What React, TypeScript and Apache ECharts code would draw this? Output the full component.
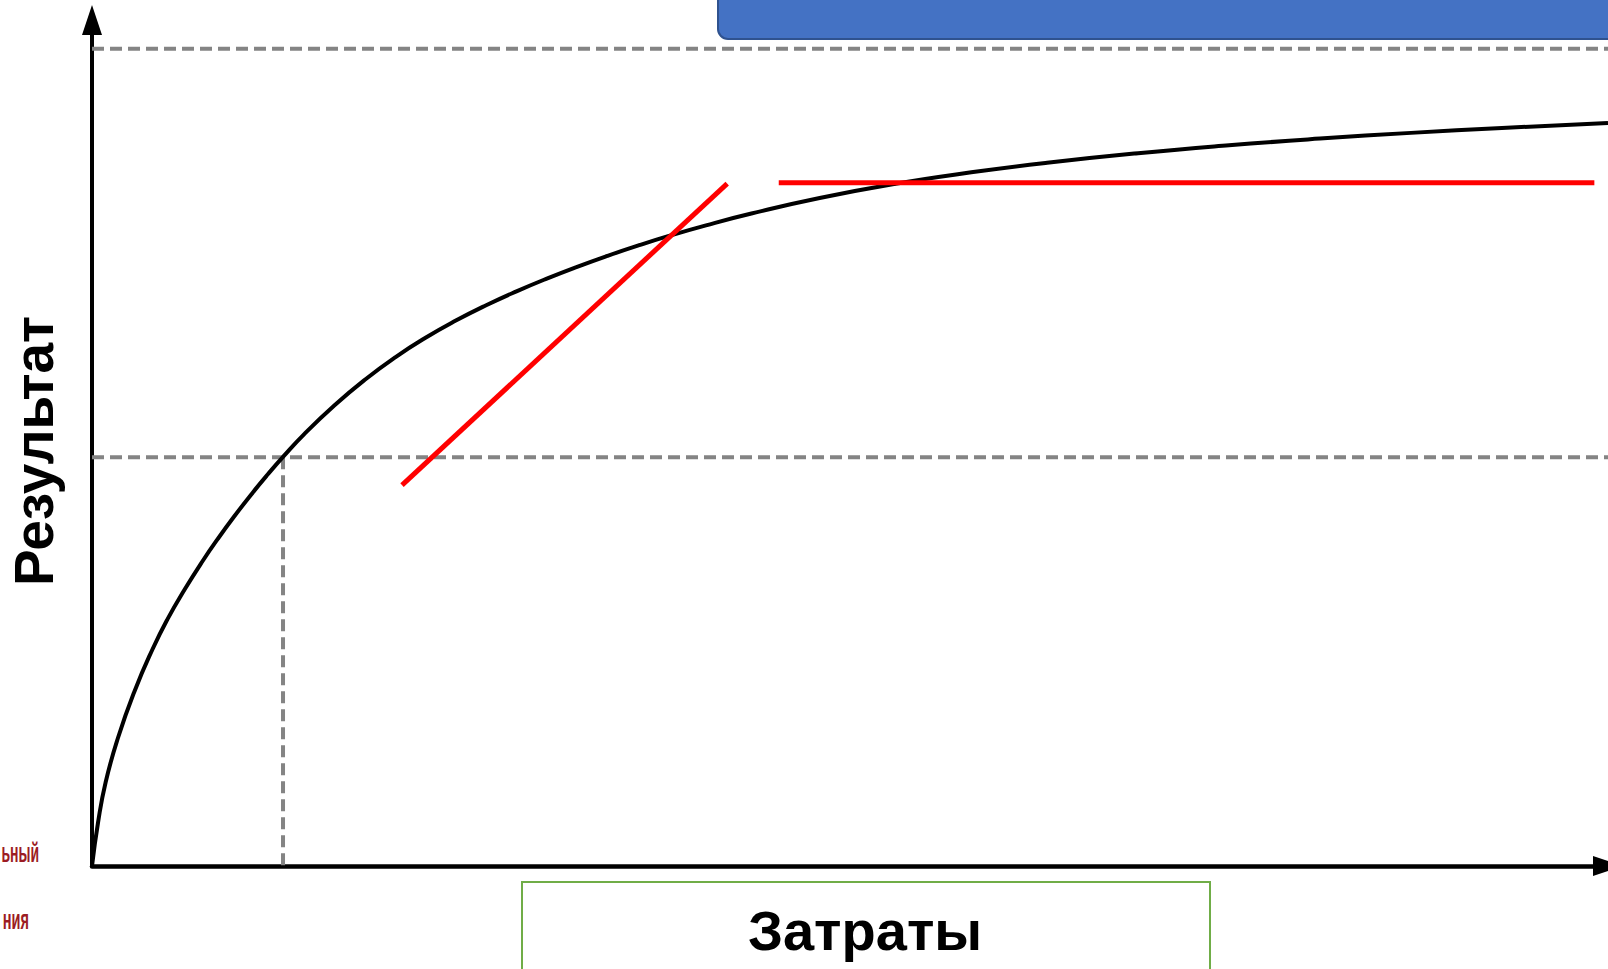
import React, { useEffect, useRef } from "react";
import * as echarts from "echarts";

// Curve of result vs cost (abstract units)
const curveX = [0, 0.4, 0.9, 1.7, 2.8, 4, 5, 6.1, 7.3, 8.3, 9.4, 10.6, 11.6, 12.6, 14, 16, 18, 20, 22, 24, 26, 28, 30, 32, 34, 36, 38, 40.5, 43.5, 48, 53, 58, 63, 69, 75, 81, 87, 93, 100];
const curveY = [0, 5.34, 10.25, 15.6, 21.36, 26.55, 30.27, 33.8, 37.32, 40.03, 42.82, 45.68, 47.93, 50.06, 52.85, 56.38, 59.5, 62.24, 64.63, 66.73, 68.61, 70.31, 71.87, 73.31, 74.65, 75.9, 77.06, 78.39, 79.83, 81.73, 83.47, 84.87, 86.04, 87.21, 88.18, 89.0, 89.7, 90.3, 90.91];

// Dashed reference levels
const topLevel = 100;
const midLevel = 50;
const midCost = 12.6;

// Red lines
const tangentX = [20.45, 41.9];
const tangentY = [46.6, 83.5];
const plateauX = [45.3, 99.1];
const plateauY = [83.6, 83.6];

const xAxisTitle = "Затраты";
const yAxisTitle = "Результат";
const sideTexts = ["ьный", "ния"];

const zip = (xs: number[], ys: number[]) => xs.map((x, i) => [x, ys[i]]);

export default function App() {
  const ref = useRef<HTMLDivElement>(null);
  useEffect(() => {
    document.body.style.margin = "0";
    const chart = echarts.init(ref.current!, null, { renderer: "svg" });
    const dashed = {
      type: "line" as const,
      showSymbol: false,
      silent: true,
      lineStyle: { color: "#848484", width: 4, type: [12, 6] as any },
      z: 1,
    };
    chart.setOption({
      animation: false,
      backgroundColor: "#ffffff",
      grid: { left: 92, right: 0, top: 16, bottom: 103 },
      xAxis: {
        type: "value",
        min: 0,
        max: 100,
        axisLine: {
          show: true,
          onZero: false,
          symbol: ["none", "triangle"],
          symbolSize: [20, 30],
          lineStyle: { color: "#000", width: 4.5 },
        },
        axisTick: { show: false },
        axisLabel: { show: false },
        splitLine: { show: false },
      },
      yAxis: {
        type: "value",
        min: 0,
        max: 104,
        axisLine: {
          show: true,
          onZero: false,
          symbol: ["none", "triangle"],
          symbolSize: [20, 30],
          symbolOffset: [0, -4],
          lineStyle: { color: "#000", width: 4 },
        },
        axisTick: { show: false },
        axisLabel: { show: false },
        splitLine: { show: false },
      },
      series: [
        { ...dashed, data: [[0, topLevel], [100, topLevel]] },
        { ...dashed, data: [[0, midLevel], [100, midLevel]] },
        { ...dashed, data: [[midCost, midLevel], [midCost, 0]] },
        {
          type: "line",
          data: zip(curveX, curveY),
          smooth: 0.5,
          showSymbol: false,
          lineStyle: { color: "#000", width: 4 },
          z: 3,
        },
        {
          type: "line",
          data: zip(tangentX, tangentY),
          showSymbol: false,
          lineStyle: { color: "#ff0000", width: 5, cap: "butt" },
          z: 4,
        },
        {
          type: "line",
          data: zip(plateauX, plateauY),
          showSymbol: false,
          lineStyle: { color: "#ff0000", width: 5, cap: "butt" },
          z: 4,
        },
      ],
      graphic: [
        {
          type: "rect",
          shape: { x: 718, y: -20, width: 920, height: 59, r: 10 },
          style: { fill: "#4472C4", stroke: "#2F528F", lineWidth: 2 },
          z: 10,
        },
        {
          type: "rect",
          shape: { x: 522, y: 882, width: 688, height: 100 },
          style: { fill: "#ffffff", stroke: "#70AD47", lineWidth: 2 },
          z: 10,
        },
        {
          type: "text",
          x: 865,
          y: 930,
          style: {
            text: xAxisTitle,
            font: "bold 56px 'Liberation Sans', Arial, sans-serif",
            fill: "#000",
            align: "center",
            verticalAlign: "middle",
          },
          z: 11,
        },
        {
          type: "text",
          x: 34,
          y: 451,
          rotation: Math.PI / 2,
          style: {
            text: yAxisTitle,
            font: "bold 55px 'Liberation Sans', Arial, sans-serif",
            fill: "#000",
            align: "center",
            verticalAlign: "middle",
          },
          z: 11,
        },
        {
          type: "text",
          x: 39,
          y: 853,
          scaleX: 0.5,
          style: {
            text: sideTexts[0],
            font: "bold 28px 'Liberation Sans', Arial, sans-serif",
            fill: "#9C1C24",
            align: "right",
            verticalAlign: "middle",
          },
          z: 11,
        },
        {
          type: "text",
          x: 29,
          y: 920,
          scaleX: 0.52,
          style: {
            text: sideTexts[1],
            font: "bold 28px 'Liberation Sans', Arial, sans-serif",
            fill: "#9C1C24",
            align: "right",
            verticalAlign: "middle",
          },
          z: 11,
        },
      ],
    });
    return () => chart.dispose();
  }, []);
  return (
    <div
      ref={ref}
      style={{ position: "fixed", left: 0, top: 0, width: 1608, height: 969 }}
    />
  );
}
